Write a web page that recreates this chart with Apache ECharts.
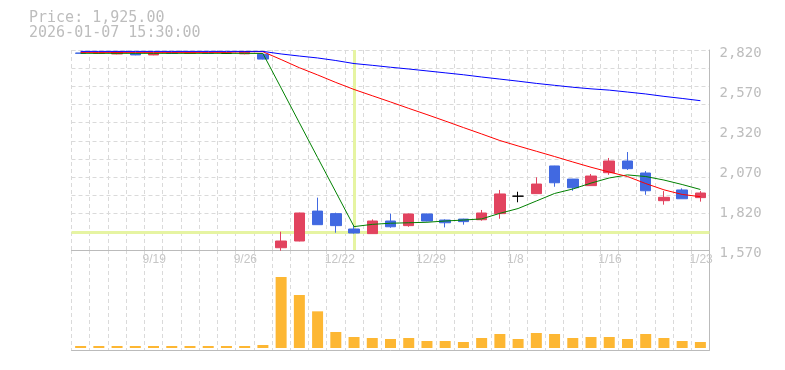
<!DOCTYPE html>
<html><head><meta charset="utf-8">
<script src="https://cdn.jsdelivr.net/npm/echarts@6/dist/echarts.min.js"></script>
<style>html,body{margin:0;padding:0;background:#fff}#c{width:785px;height:370px}</style>
</head><body><div id="c"></div>
<script>
// ---- data ----
const categories = ["9/15","9/16","9/17","9/18","9/19","9/22","9/23","9/24","9/25","9/26","9/29",
  "12/17","12/18","12/19","12/22","12/23","12/24","12/25","12/26","12/29","12/30",
  "1/5","1/6","1/7","1/8","1/9","1/13","1/14","1/15","1/16","1/19","1/20","1/21","1/22","1/23"];
const opens  = [2820,2817,2814,2818,2808,2820,2817,2819,2818,2815,2812,
  1603,1645,1832,1816,1720,1691,1770,1741,1814,1776,1782,1778,1816,1925,1941,2114,2032,1991,2072,2145,2070,1897,1964,1916];
const closes = [2818,2819,2826,2808,2818,2817,2819,2817,2818,2826,2782,
  1645,1820,1747,1741,1695,1770,1734,1814,1770,1759,1766,1820,1939,1925,2001,2009,1978,2051,2145,2097,1959,1918,1909,1945];
const lows   = [2816,2815,2812,2806,2806,2815,2816,2815,2816,2812,2780,
  1584,1643,1747,1697,1691,1691,1728,1734,1768,1730,1747,1772,1784,1887,1940,1984,1959,1990,2059,2089,1934,1872,1909,1891];
const highs  = [2822,2821,2828,2820,2820,2822,2821,2820,2820,2828,2814,
  1703,1822,1916,1822,1743,1780,1816,1816,1816,1780,1784,1839,1964,1953,2043,2115,2033,2064,2164,2201,2082,1957,1974,1957];
const ma5  = [2818,2818,2818,2818,2818,2818,2818,2818,2818,2818,2817,
  2601,2384,2167,1951,1735,1749,1756,1759,1762,1770,1776,1783,1818,1848,1895,1942,1970,2007,2039,2058,2048,2026,1998,1967];
const ma25 = [2824,2824,2824,2824,2824,2824,2824,2824,2824,2828,2828,
  2779,2728,2683,2636,2592,2553,2514,2474,2435,2395,2354,2314,2273,2239,2206,2173,2139,2106,2076,2048,2004,1965,1936,1922];
const ma75 = [2830,2830,2830,2830,2830,2830,2830,2830,2830,2830,2830,
  2814,2801,2789,2773,2754,2743,2731,2720,2708,2696,2684,2670,2657,2644,2630,2618,2606,2596,2588,2576,2564,2549,2536,2522];
const volumes = [60,60,60,60,60,60,60,60,60,60,90,
  2130,1590,1100,480,330,300,270,300,210,210,180,300,420,270,450,420,300,330,330,270,420,300,210,180];
const priceTicks = [1570, 2820, 250];   // min, max, step of the labelled price axis
const crossIndex = 15;
const crossPrice = 1700;
const headerPrice = 1925;
const headerTime = "2026-01-07 15:30:00";

// ---- chart ----
const UP = '#e2435f', DOWN = '#4169e1', GRIDC = '#dadada', AXC = '#bbbbbb';
const fmt = v => Number(v).toLocaleString('en-US');
const candleData = opens.map((o, i) => {
  const item = { value: [o, closes[i], lows[i], highs[i]] };
  if (o === closes[i]) item.itemStyle = { color: '#000', color0: '#000', borderColor: '#000', borderColor0: '#000', borderColorDoji: '#000' };
  return item;
});
const L = 71.5, W = 638;
const dash = { color: GRIDC, type: [4, 3], width: 1 };
const chart = echarts.init(document.getElementById('c'));
chart.setOption({
  animation: false,
  grid: [
    { left: L, top: 50, width: W, height: 200 },
    { left: L, top: 250, width: W, height: 100 },
    { left: L, top: 53, width: W, height: 200 }
  ],
  xAxis: [
    { type: 'category', gridIndex: 0, data: categories, boundaryGap: true,
      axisLine: { onZero: false, lineStyle: { color: AXC } }, axisTick: { show: false },
      axisLabel: { interval: (i) => i % 5 === 4, color: '#c6c6c6', fontSize: 12, fontFamily: 'Liberation Sans',
        margin: 4, align: 'left', padding: [0, 0, 0, -11] },
      splitLine: { show: true, interval: 0, lineStyle: dash } },
    { type: 'category', gridIndex: 1, data: categories, boundaryGap: true,
      axisLine: { onZero: false, lineStyle: { color: AXC } }, axisTick: { show: false },
      axisLabel: { show: false }, splitLine: { show: true, interval: 0, lineStyle: dash } },
    { type: 'category', gridIndex: 2, data: categories, show: false }
  ],
  yAxis: [
    { type: 'value', gridIndex: 0, position: 'right', min: 1588.75, max: 2838.75, interval: 1250 / 11,
      axisLine: { show: true, lineStyle: { color: AXC } }, axisTick: { show: false }, axisLabel: { show: false },
      splitLine: { show: true, lineStyle: dash } },
    { type: 'value', gridIndex: 1, position: 'right', min: -60, max: 2940,
      axisLine: { show: true, lineStyle: { color: AXC } }, axisTick: { show: false }, axisLabel: { show: false },
      splitLine: { show: false } },
    { type: 'value', gridIndex: 2, position: 'right', min: priceTicks[0], max: priceTicks[1], interval: priceTicks[2],
      axisLine: { show: false }, axisTick: { show: false }, splitLine: { show: false },
      axisLabel: { color: '#bdbdbd', fontSize: 14, fontFamily: 'DejaVu Sans Mono', margin: 10, formatter: fmt } }
  ],
  graphic: [
    { type: 'text', x: 29, y: 18, style: { text: 'Price: ' + headerPrice.toLocaleString('en-US', { minimumFractionDigits: 2 }),
      font: '15px "DejaVu Sans Mono"', fill: '#bdbdbd', verticalAlign: 'middle' } },
    { type: 'text', x: 29, y: 33, style: { text: headerTime, font: '15px "DejaVu Sans Mono"', fill: '#bdbdbd', verticalAlign: 'middle' } }
  ],
  series: [
    { type: 'line', xAxisIndex: 2, yAxisIndex: 2, data: [], silent: true },
    { type: 'candlestick', xAxisIndex: 0, yAxisIndex: 0, data: candleData, barWidth: 11, clip: false, z: 3,
      itemStyle: { color: UP, color0: DOWN, borderColor: UP, borderColor0: DOWN, borderWidth: 1 },
      markLine: { silent: true, symbol: 'none', z: 1, label: { show: false },
        lineStyle: { color: '#e6f4a2', width: 3, type: 'solid', opacity: 1 },
        emphasis: { disabled: true },
        data: [{ xAxis: categories[crossIndex] }, { yAxis: crossPrice }] } },
    { type: 'line', xAxisIndex: 0, yAxisIndex: 0, data: ma5, symbol: 'none', z: 4,
      lineStyle: { color: '#008000', width: 1 }, itemStyle: { color: '#008000' } },
    { type: 'line', xAxisIndex: 0, yAxisIndex: 0, data: ma25, symbol: 'none', z: 4,
      lineStyle: { color: '#ff0000', width: 1 }, itemStyle: { color: '#ff0000' } },
    { type: 'line', xAxisIndex: 0, yAxisIndex: 0, data: ma75, symbol: 'none', z: 4,
      lineStyle: { color: '#0000ff', width: 1 }, itemStyle: { color: '#0000ff' } },
    { type: 'bar', xAxisIndex: 1, yAxisIndex: 1, data: volumes, barWidth: 11,
      itemStyle: { color: '#fdb733' } }
  ]
});
</script></body></html>
